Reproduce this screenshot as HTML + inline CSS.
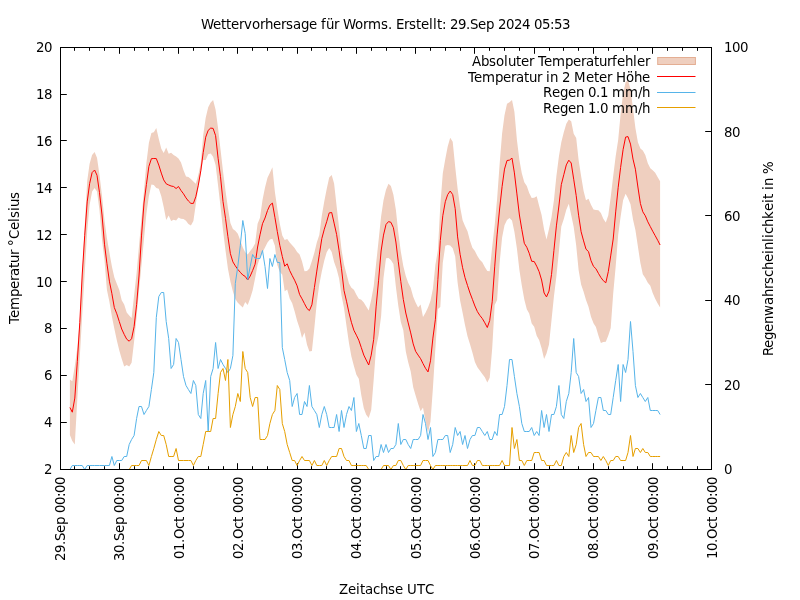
<!DOCTYPE html>
<html lang="de">
<head>
<meta charset="utf-8">
<title>Wettervorhersage für Worms</title>
<style>
html,body{margin:0;padding:0;background:#fff;}
body{width:800px;height:600px;overflow:hidden;}
svg{display:block;}
text{font-family:"DejaVu Sans", "Liberation Sans", sans-serif;font-size:13.33px;fill:#000;}
</style>
</head>
<body>
<svg width="800" height="600" viewBox="0 0 800 600">
<rect x="0" y="0" width="800" height="600" fill="#ffffff"/>
<path d="M60.5,469.5v-6.3M60.5,47.5v6.3M74.5,469.5v-3.3M74.5,47.5v3.3M89.5,469.5v-3.3M89.5,47.5v3.3M104.5,469.5v-3.3M104.5,47.5v3.3M119.5,469.5v-6.3M119.5,47.5v6.3M134.5,469.5v-3.3M134.5,47.5v3.3M148.5,469.5v-3.3M148.5,47.5v3.3M163.5,469.5v-3.3M163.5,47.5v3.3M178.5,469.5v-6.3M178.5,47.5v6.3M193.5,469.5v-3.3M193.5,47.5v3.3M208.5,469.5v-3.3M208.5,47.5v3.3M223.5,469.5v-3.3M223.5,47.5v3.3M237.5,469.5v-6.3M237.5,47.5v6.3M252.5,469.5v-3.3M252.5,47.5v3.3M267.5,469.5v-3.3M267.5,47.5v3.3M282.5,469.5v-3.3M282.5,47.5v3.3M297.5,469.5v-6.3M297.5,47.5v6.3M311.5,469.5v-3.3M311.5,47.5v3.3M326.5,469.5v-3.3M326.5,47.5v3.3M341.5,469.5v-3.3M341.5,47.5v3.3M356.5,469.5v-6.3M356.5,47.5v6.3M371.5,469.5v-3.3M371.5,47.5v3.3M386.5,469.5v-3.3M386.5,47.5v3.3M400.5,469.5v-3.3M400.5,47.5v3.3M415.5,469.5v-6.3M415.5,47.5v6.3M430.5,469.5v-3.3M430.5,47.5v3.3M445.5,469.5v-3.3M445.5,47.5v3.3M460.5,469.5v-3.3M460.5,47.5v3.3M474.5,469.5v-6.3M474.5,47.5v6.3M489.5,469.5v-3.3M489.5,47.5v3.3M504.5,469.5v-3.3M504.5,47.5v3.3M519.5,469.5v-3.3M519.5,47.5v3.3M534.5,469.5v-6.3M534.5,47.5v6.3M549.5,469.5v-3.3M549.5,47.5v3.3M563.5,469.5v-3.3M563.5,47.5v3.3M578.5,469.5v-3.3M578.5,47.5v3.3M593.5,469.5v-6.3M593.5,47.5v6.3M608.5,469.5v-3.3M608.5,47.5v3.3M623.5,469.5v-3.3M623.5,47.5v3.3M637.5,469.5v-3.3M637.5,47.5v3.3M652.5,469.5v-6.3M652.5,47.5v6.3M667.5,469.5v-3.3M667.5,47.5v3.3M682.5,469.5v-3.3M682.5,47.5v3.3M697.5,469.5v-3.3M697.5,47.5v3.3M711.5,469.5v-6.3M711.5,47.5v6.3M60.5,469.5h6.3M60.5,422.5h6.3M60.5,375.5h6.3M60.5,328.5h6.3M60.5,281.5h6.3M60.5,234.5h6.3M60.5,187.5h6.3M60.5,140.5h6.3M60.5,94.5h6.3M60.5,47.5h6.3M711.5,469.5h-6.3M711.5,384.5h-6.3M711.5,300.5h-6.3M711.5,215.5h-6.3M711.5,131.5h-6.3M711.5,47.5h-6.3" stroke="#000" stroke-width="1" fill="none"/>
<polygon points="69.9,379.4 72.3,381.2 74.8,366.0 77.3,348.1 79.8,319.9 82.2,273.4 84.7,226.9 87.2,181.0 89.6,163.7 92.1,155.1 94.6,151.9 97.0,157.8 99.5,175.1 102.0,195.7 104.5,220.3 106.9,238.1 109.4,252.6 111.9,266.6 114.3,277.3 116.8,283.7 119.3,290.0 121.7,300.2 124.2,304.5 126.7,312.5 129.2,315.4 131.6,318.1 134.1,295.6 136.6,273.1 139.0,245.9 141.5,218.3 144.0,190.7 146.4,163.1 148.9,142.8 151.4,133.1 153.8,132.3 156.3,128.1 158.8,138.9 161.3,148.8 163.7,153.1 166.2,147.5 168.7,153.8 171.1,152.7 173.6,154.9 176.1,156.5 178.5,158.6 181.0,162.5 183.5,170.2 186.0,176.4 188.4,177.1 190.9,179.0 193.4,181.5 195.8,183.8 198.3,175.1 200.8,162.9 203.2,135.3 205.7,117.7 208.2,107.2 210.7,102.4 213.1,100.0 215.6,109.8 218.1,128.6 220.5,149.2 223.0,171.2 225.5,190.8 227.9,207.7 230.4,222.9 232.9,229.1 235.3,230.7 237.8,233.8 240.3,240.6 242.8,247.5 245.2,252.2 247.7,254.4 250.2,251.1 252.6,248.1 255.1,243.5 257.6,223.7 260.0,217.8 262.5,199.9 265.0,187.6 267.5,177.7 269.9,172.7 272.4,167.2 274.9,192.0 277.3,208.5 279.8,223.8 282.3,235.4 284.7,240.0 287.2,239.0 289.7,242.5 292.2,245.2 294.6,248.0 297.1,252.1 299.6,254.6 302.0,261.3 304.5,271.2 307.0,270.9 309.4,268.6 311.9,261.1 314.4,252.5 316.8,242.6 319.3,235.0 321.8,215.7 324.3,201.2 326.7,188.9 329.2,177.6 331.7,175.0 334.1,183.6 336.6,206.0 339.1,227.9 341.5,249.6 344.0,264.5 346.5,273.9 349.0,283.6 351.4,287.7 353.9,289.8 356.4,294.7 358.8,298.7 361.3,299.8 363.8,302.5 366.2,306.4 368.7,310.6 371.2,299.7 373.7,286.3 376.1,263.8 378.6,240.2 381.1,216.6 383.5,200.2 386.0,189.8 388.5,183.8 390.9,186.1 393.4,194.7 395.9,209.9 398.3,232.4 400.8,251.4 403.3,266.0 405.8,276.0 408.2,282.7 410.7,287.8 413.2,296.7 415.6,302.5 418.1,307.5 420.6,304.4 423.0,316.9 425.5,312.7 428.0,307.5 430.5,300.7 432.9,288.7 435.4,264.8 437.9,249.9 440.3,205.5 442.8,173.2 445.3,158.9 447.7,146.5 450.2,137.8 452.7,141.7 455.2,166.8 457.6,188.4 460.1,206.8 462.6,220.2 465.0,226.0 467.5,231.2 470.0,240.7 472.4,247.7 474.9,251.1 477.4,256.0 479.8,259.8 482.3,262.3 484.8,267.1 487.3,271.0 489.7,271.2 492.2,246.8 494.7,224.9 497.1,198.9 499.6,164.5 502.1,133.4 504.5,115.2 507.0,103.7 509.5,102.2 512.0,100.0 514.4,111.7 516.9,139.8 519.4,159.9 521.8,173.2 524.3,182.3 526.8,185.9 529.2,193.0 531.7,198.1 534.2,197.8 536.7,196.2 539.1,205.8 541.6,215.0 544.1,229.4 546.5,239.5 549.0,229.0 551.5,217.2 553.9,200.6 556.4,175.9 558.9,156.5 561.3,142.2 563.8,132.3 566.3,123.7 568.8,119.4 571.2,121.2 573.7,133.8 576.2,138.1 578.6,160.0 581.1,176.0 583.6,191.1 586.0,200.2 588.5,198.8 591.0,204.8 593.5,209.6 595.9,210.0 598.4,210.2 600.9,213.1 603.3,218.8 605.8,222.5 608.3,215.3 610.7,197.3 613.2,175.9 615.7,156.1 618.2,139.8 620.6,114.2 623.1,93.6 625.6,82.2 628.0,80.0 630.5,89.2 633.0,108.7 635.4,127.9 637.9,142.3 640.4,148.4 642.8,150.5 645.3,154.9 647.8,163.3 650.3,168.2 652.7,170.2 655.2,172.8 657.7,177.2 660.1,181.2 660.1,307.5 657.7,303.6 655.2,298.8 652.7,293.0 650.3,285.8 647.8,282.8 645.3,278.1 642.8,274.3 640.4,263.1 637.9,246.5 635.4,230.1 633.0,219.4 630.5,204.2 628.0,198.3 625.6,193.8 623.1,200.2 620.6,216.7 618.2,234.8 615.7,266.3 613.2,293.6 610.7,328.0 608.3,335.6 605.8,341.7 603.3,342.0 600.9,343.1 598.4,335.5 595.9,327.0 593.5,323.2 591.0,316.8 588.5,306.8 586.0,300.0 583.6,291.8 581.1,284.6 578.6,270.1 576.2,245.4 573.7,227.0 571.2,214.9 568.8,203.8 566.3,209.8 563.8,218.9 561.3,226.5 558.9,251.2 556.4,276.2 553.9,296.7 551.5,320.3 549.0,344.6 546.5,353.6 544.1,359.0 541.6,348.3 539.1,340.0 536.7,335.8 534.2,326.7 531.7,323.6 529.2,313.5 526.8,309.3 524.3,299.5 521.8,285.6 519.4,269.9 516.9,248.4 514.4,231.7 512.0,220.6 509.5,218.1 507.0,220.0 504.5,225.2 502.1,237.5 499.6,263.0 497.1,300.0 494.7,305.0 492.2,348.3 489.7,377.7 487.3,382.5 484.8,377.2 482.3,373.9 479.8,370.6 477.4,367.3 474.9,362.1 472.4,352.6 470.0,344.2 467.5,336.2 465.0,325.1 462.6,312.8 460.1,300.5 457.6,282.5 455.2,256.4 452.7,248.2 450.2,245.5 447.7,245.0 445.3,245.7 442.8,262.7 440.3,306.9 437.9,308.9 435.4,348.3 432.9,388.3 430.5,421.6 428.0,432.5 425.5,421.2 423.0,407.5 420.6,411.2 418.1,403.7 415.6,395.4 413.2,387.2 410.7,371.4 408.2,362.2 405.8,351.5 403.3,330.3 400.8,322.1 398.3,305.7 395.9,287.0 393.4,264.1 390.9,259.9 388.5,258.1 386.0,258.3 383.5,277.9 381.1,316.3 378.6,335.2 376.1,347.5 373.7,379.6 371.2,410.0 368.7,418.1 366.2,414.7 363.8,408.2 361.3,395.3 358.8,378.7 356.4,374.8 353.9,366.0 351.4,356.4 349.0,343.2 346.5,326.1 344.0,308.1 341.5,295.6 339.1,278.6 336.6,269.0 334.1,262.1 331.7,251.9 329.2,248.1 326.7,252.3 324.3,260.5 321.8,271.4 319.3,284.4 316.8,302.6 314.4,327.5 311.9,350.9 309.4,351.4 307.0,344.7 304.5,332.5 302.0,338.1 299.6,328.2 297.1,320.8 294.6,311.3 292.2,303.2 289.7,298.6 287.2,289.4 284.7,291.2 282.3,274.7 279.8,271.8 277.3,264.9 274.9,245.7 272.4,238.8 269.9,239.5 267.5,242.6 265.0,247.5 262.5,252.5 260.0,257.4 257.6,264.7 255.1,278.2 252.6,290.6 250.2,298.2 247.7,305.0 245.2,301.9 242.8,307.5 240.3,305.3 237.8,302.8 235.3,299.0 232.9,291.5 230.4,281.6 227.9,268.4 225.5,250.4 223.0,230.0 220.5,206.5 218.1,185.7 215.6,165.0 213.1,156.7 210.7,153.5 208.2,154.3 205.7,160.0 203.2,160.0 200.8,172.9 198.3,187.9 195.8,204.3 193.4,221.1 190.9,225.6 188.4,224.0 186.0,220.7 183.5,219.1 181.0,218.7 178.5,217.5 176.1,220.6 173.6,219.8 171.1,221.0 168.7,215.6 166.2,220.0 163.7,207.0 161.3,196.3 158.8,188.8 156.3,188.1 153.8,184.9 151.4,184.4 148.9,196.1 146.4,213.6 144.0,238.9 141.5,264.9 139.0,290.8 136.6,316.7 134.1,341.6 131.6,362.8 129.2,366.5 126.7,365.0 124.2,366.5 121.7,358.7 119.3,350.5 116.8,340.3 114.3,328.5 111.9,316.5 109.4,301.7 106.9,289.8 104.5,260.3 102.0,239.8 99.5,210.2 97.0,191.5 94.6,188.1 92.1,191.4 89.6,204.9 87.2,231.2 84.7,273.1 82.2,314.9 79.8,356.8 77.3,399.2 74.8,444.4 72.3,440.9 69.9,435.0" fill="#efcfbf" stroke="none"/>
<text x="472 481 489 496 504 508 516 521 529 534 538 544 552 565 573 581 586 594 599 607 612 617 625 633 637 645" y="66">Absoluter Temperaturfehler</text>
<rect x="657.7" y="57.5" width="37.7" height="7" fill="#efcfbf" stroke="#e4ae93" stroke-width="1"/>
<polyline points="69.9,407.5 72.3,412.2 74.8,398.1 77.3,361.7 79.8,322.4 82.2,275.0 84.7,235.7 87.2,201.9 89.6,183.7 92.1,172.6 94.6,170.0 97.0,175.3 99.5,192.7 102.0,215.0 104.5,244.2 106.9,263.3 109.4,281.2 111.9,293.7 114.3,307.5 116.8,313.8 119.3,321.6 121.7,329.0 124.2,334.4 126.7,339.2 129.2,341.2 131.6,338.7 134.1,326.6 136.6,304.7 139.0,276.0 141.5,235.9 144.0,203.0 146.4,184.6 148.9,166.4 151.4,158.7 153.8,158.5 156.3,158.6 158.8,165.1 161.3,173.1 163.7,179.9 166.2,183.8 168.7,185.0 171.1,186.0 173.6,186.5 176.1,188.5 178.5,186.5 181.0,190.5 183.5,193.8 186.0,197.9 188.4,201.0 190.9,203.4 193.4,203.4 195.8,196.7 198.3,185.2 200.8,170.8 203.2,152.6 205.7,137.2 208.2,130.3 210.7,128.1 213.1,128.4 215.6,135.7 218.1,158.3 220.5,176.7 223.0,201.5 225.5,218.3 227.9,236.5 230.4,253.7 232.9,261.9 235.3,265.8 237.8,269.4 240.3,272.3 242.8,275.0 245.2,276.4 247.7,280.0 250.2,276.1 252.6,270.6 255.1,264.2 257.6,247.0 260.0,234.8 262.5,223.7 265.0,218.0 267.5,210.5 269.9,205.2 272.4,203.1 274.9,217.3 277.3,231.6 279.8,245.3 282.3,256.5 284.7,266.2 287.2,263.8 289.7,270.6 292.2,275.6 294.6,280.2 297.1,285.8 299.6,294.5 302.0,298.8 304.5,303.7 307.0,308.5 309.4,310.6 311.9,304.8 314.4,287.5 316.8,271.1 319.3,254.8 321.8,238.6 324.3,229.2 326.7,221.7 329.2,212.9 331.7,212.5 334.1,223.1 336.6,234.4 339.1,250.7 341.5,268.8 344.0,290.5 346.5,301.2 349.0,312.9 351.4,322.3 353.9,330.3 356.4,335.2 358.8,340.2 361.3,347.6 363.8,355.1 366.2,360.0 368.7,365.0 371.2,355.2 373.7,339.4 376.1,306.9 378.6,280.2 381.1,251.0 383.5,235.1 386.0,224.5 388.5,221.6 390.9,222.3 393.4,227.7 395.9,242.0 398.3,261.8 400.8,281.5 403.3,299.4 405.8,313.0 408.2,322.9 410.7,332.9 413.2,343.9 415.6,351.3 418.1,355.1 420.6,358.7 423.0,363.6 425.5,368.3 428.0,371.9 430.5,360.8 432.9,338.1 435.4,319.3 437.9,279.3 440.3,240.6 442.8,215.7 445.3,201.7 447.7,194.6 450.2,191.0 452.7,194.6 455.2,208.7 457.6,236.9 460.1,254.3 462.6,267.7 465.0,277.6 467.5,285.5 470.0,293.0 472.4,299.3 474.9,306.0 477.4,311.6 479.8,315.4 482.3,318.5 484.8,322.8 487.3,327.5 489.7,320.5 492.2,301.8 494.7,266.9 497.1,234.9 499.6,209.0 502.1,186.5 504.5,169.1 507.0,160.5 509.5,160.1 512.0,158.1 514.4,172.9 516.9,193.9 519.4,215.0 521.8,229.4 524.3,243.3 526.8,247.3 529.2,253.2 531.7,261.3 534.2,261.5 536.7,266.2 539.1,271.6 541.6,280.0 544.1,293.0 546.5,296.9 549.0,291.1 551.5,274.6 553.9,250.6 556.4,225.9 558.9,206.0 561.3,184.6 563.8,174.7 566.3,164.9 568.8,160.2 571.2,163.0 573.7,179.2 576.2,195.6 578.6,215.2 581.1,231.7 583.6,240.9 586.0,249.2 588.5,251.6 591.0,260.7 593.5,266.4 595.9,268.7 598.4,273.3 600.9,277.5 603.3,280.7 605.8,282.8 608.3,271.6 610.7,255.9 613.2,239.0 615.7,211.9 618.2,187.3 620.6,167.5 623.1,149.5 625.6,137.1 628.0,136.6 630.5,144.1 633.0,159.1 635.4,169.2 637.9,187.0 640.4,203.5 642.8,211.8 645.3,215.8 647.8,221.8 650.3,226.6 652.7,231.2 655.2,235.7 657.7,240.3 660.1,245.0" fill="none" stroke="#ff0000" stroke-width="1" stroke-linejoin="miter" stroke-miterlimit="6"/>
<text x="468 474 482 495 503 511 516 524 529 537 542 546 550 558 562 570 574 586 594 599 607 612 616 626 634 642" y="82">Temperatur in 2 Meter Höhe</text>
<path d="M657,76.5H695.5" stroke="#ff0000" stroke-width="1" fill="none"/>
<polyline points="69.9,469.5 72.3,465.5 74.8,465.5 77.3,465.5 79.8,465.5 82.2,465.5 84.7,469.5 87.2,465.5 89.6,465.5 92.1,465.5 94.6,465.5 97.0,465.5 99.5,465.5 102.0,465.5 104.5,465.5 106.9,465.5 109.4,465.5 111.9,456.5 114.3,465.5 116.8,460.5 119.3,460.5 121.7,460.5 124.2,456.5 126.7,456.5 129.2,444.5 131.6,439.5 134.1,435.5 136.6,418.5 139.0,406.5 141.5,406.5 144.0,414.5 146.4,410.5 148.9,406.5 151.4,389.5 153.8,372.5 156.3,317.5 158.8,296.5 161.3,292.5 163.7,292.5 166.2,321.5 168.7,338.5 171.1,368.5 173.6,364.5 176.1,338.5 178.5,342.5 181.0,359.5 183.5,376.5 186.0,385.5 188.4,389.5 190.9,393.5 193.4,380.5 195.8,385.5 198.3,414.5 200.8,418.5 203.2,393.5 205.7,380.5 208.2,431.5 210.7,376.5 213.1,368.5 215.6,342.5 218.1,368.5 220.5,359.5 223.0,364.5 225.5,368.5 227.9,372.5 230.4,368.5 232.9,355.5 235.3,283.5 237.8,266.5 240.3,245.5 242.8,220.5 245.2,233.5 247.7,279.5 250.2,266.5 252.6,254.5 255.1,258.5 257.6,258.5 260.0,258.5 262.5,250.5 265.0,266.5 267.5,288.5 269.9,258.5 272.4,266.5 274.9,254.5 277.3,262.5 279.8,262.5 282.3,347.5 284.7,359.5 287.2,372.5 289.7,380.5 292.2,406.5 294.6,397.5 297.1,393.5 299.6,414.5 302.0,414.5 304.5,401.5 307.0,406.5 309.4,385.5 311.9,406.5 314.4,410.5 316.8,414.5 319.3,427.5 321.8,414.5 324.3,406.5 326.7,414.5 329.2,427.5 331.7,427.5 334.1,427.5 336.6,414.5 339.1,431.5 341.5,410.5 344.0,427.5 346.5,414.5 349.0,406.5 351.4,410.5 353.9,397.5 356.4,431.5 358.8,423.5 361.3,435.5 363.8,448.5 366.2,448.5 368.7,435.5 371.2,435.5 373.7,460.5 376.1,456.5 378.6,456.5 381.1,444.5 383.5,452.5 386.0,444.5 388.5,452.5 390.9,448.5 393.4,448.5 395.9,444.5 398.3,423.5 400.8,444.5 403.3,439.5 405.8,439.5 408.2,444.5 410.7,448.5 413.2,439.5 415.6,439.5 418.1,439.5 420.6,435.5 423.0,414.5 425.5,423.5 428.0,439.5 430.5,427.5 432.9,456.5 435.4,452.5 437.9,439.5 440.3,439.5 442.8,439.5 445.3,435.5 447.7,435.5 450.2,452.5 452.7,444.5 455.2,427.5 457.6,435.5 460.1,431.5 462.6,444.5 465.0,435.5 467.5,448.5 470.0,439.5 472.4,435.5 474.9,435.5 477.4,427.5 479.8,427.5 482.3,431.5 484.8,435.5 487.3,431.5 489.7,439.5 492.2,439.5 494.7,431.5 497.1,435.5 499.6,414.5 502.1,414.5 504.5,406.5 507.0,385.5 509.5,359.5 512.0,359.5 514.4,376.5 516.9,393.5 519.4,406.5 521.8,423.5 524.3,431.5 526.8,431.5 529.2,431.5 531.7,427.5 534.2,435.5 536.7,431.5 539.1,435.5 541.6,410.5 544.1,427.5 546.5,414.5 549.0,431.5 551.5,414.5 553.9,414.5 556.4,406.5 558.9,385.5 561.3,414.5 563.8,418.5 566.3,401.5 568.8,393.5 571.2,372.5 573.7,338.5 576.2,372.5 578.6,376.5 581.1,393.5 583.6,389.5 586.0,401.5 588.5,397.5 591.0,427.5 593.5,423.5 595.9,410.5 598.4,397.5 600.9,397.5 603.3,410.5 605.8,410.5 608.3,414.5 610.7,414.5 613.2,397.5 615.7,380.5 618.2,364.5 620.6,401.5 623.1,364.5 625.6,372.5 628.0,359.5 630.5,321.5 633.0,351.5 635.4,385.5 637.9,397.5 640.4,393.5 642.8,397.5 645.3,401.5 647.8,397.5 650.3,410.5 652.7,410.5 655.2,410.5 657.7,410.5 660.1,414.5" fill="none" stroke="#56b4e9" stroke-width="1" stroke-linejoin="miter" stroke-miterlimit="6"/>
<text x="543 552 560 568 576 584 588 596 600 608 612 625 638 642" y="97">Regen 0.1 mm/h</text>
<path d="M657,92.5H695.5" stroke="#56b4e9" stroke-width="1" fill="none"/>
<polyline points="69.9,469.5 72.3,469.5 74.8,469.5 77.3,469.5 79.8,469.5 82.2,469.5 84.7,469.5 87.2,469.5 89.6,469.5 92.1,469.5 94.6,469.5 97.0,469.5 99.5,469.5 102.0,469.5 104.5,469.5 106.9,469.5 109.4,469.5 111.9,469.5 114.3,469.5 116.8,469.5 119.3,469.5 121.7,469.5 124.2,469.5 126.7,469.5 129.2,469.5 131.6,465.5 134.1,465.5 136.6,465.5 139.0,465.5 141.5,460.5 144.0,460.5 146.4,460.5 148.9,465.5 151.4,456.5 153.8,448.5 156.3,439.5 158.8,431.5 161.3,435.5 163.7,435.5 166.2,444.5 168.7,456.5 171.1,456.5 173.6,456.5 176.1,448.5 178.5,460.5 181.0,460.5 183.5,460.5 186.0,460.5 188.4,460.5 190.9,460.5 193.4,465.5 195.8,460.5 198.3,456.5 200.8,456.5 203.2,444.5 205.7,431.5 208.2,431.5 210.7,431.5 213.1,418.5 215.6,418.5 218.1,393.5 220.5,372.5 223.0,368.5 225.5,380.5 227.9,359.5 230.4,427.5 232.9,414.5 235.3,406.5 237.8,393.5 240.3,401.5 242.8,351.5 245.2,368.5 247.7,372.5 250.2,397.5 252.6,406.5 255.1,397.5 257.6,397.5 260.0,439.5 262.5,439.5 265.0,439.5 267.5,435.5 269.9,423.5 272.4,414.5 274.9,410.5 277.3,385.5 279.8,389.5 282.3,423.5 284.7,431.5 287.2,444.5 289.7,452.5 292.2,460.5 294.6,460.5 297.1,465.5 299.6,460.5 302.0,456.5 304.5,460.5 307.0,460.5 309.4,460.5 311.9,465.5 314.4,460.5 316.8,465.5 319.3,465.5 321.8,465.5 324.3,460.5 326.7,465.5 329.2,460.5 331.7,456.5 334.1,456.5 336.6,456.5 339.1,448.5 341.5,448.5 344.0,456.5 346.5,460.5 349.0,460.5 351.4,465.5 353.9,465.5 356.4,465.5 358.8,465.5 361.3,465.5 363.8,465.5 366.2,465.5 368.7,469.5 371.2,469.5 373.7,469.5 376.1,469.5 378.6,469.5 381.1,469.5 383.5,465.5 386.0,465.5 388.5,465.5 390.9,469.5 393.4,465.5 395.9,465.5 398.3,460.5 400.8,460.5 403.3,465.5 405.8,469.5 408.2,465.5 410.7,465.5 413.2,465.5 415.6,465.5 418.1,465.5 420.6,465.5 423.0,460.5 425.5,460.5 428.0,460.5 430.5,465.5 432.9,469.5 435.4,465.5 437.9,465.5 440.3,465.5 442.8,465.5 445.3,465.5 447.7,465.5 450.2,465.5 452.7,465.5 455.2,465.5 457.6,465.5 460.1,465.5 462.6,465.5 465.0,465.5 467.5,465.5 470.0,460.5 472.4,465.5 474.9,465.5 477.4,460.5 479.8,460.5 482.3,465.5 484.8,465.5 487.3,465.5 489.7,465.5 492.2,465.5 494.7,465.5 497.1,465.5 499.6,465.5 502.1,460.5 504.5,465.5 507.0,465.5 509.5,465.5 512.0,427.5 514.4,448.5 516.9,439.5 519.4,460.5 521.8,460.5 524.3,465.5 526.8,460.5 529.2,460.5 531.7,460.5 534.2,452.5 536.7,452.5 539.1,452.5 541.6,460.5 544.1,460.5 546.5,465.5 549.0,465.5 551.5,465.5 553.9,465.5 556.4,460.5 558.9,465.5 561.3,465.5 563.8,456.5 566.3,452.5 568.8,456.5 571.2,435.5 573.7,452.5 576.2,444.5 578.6,427.5 581.1,423.5 583.6,444.5 586.0,456.5 588.5,452.5 591.0,452.5 593.5,456.5 595.9,456.5 598.4,456.5 600.9,460.5 603.3,456.5 605.8,460.5 608.3,465.5 610.7,460.5 613.2,460.5 615.7,456.5 618.2,456.5 620.6,460.5 623.1,460.5 625.6,460.5 628.0,452.5 630.5,435.5 633.0,456.5 635.4,448.5 637.9,448.5 640.4,452.5 642.8,448.5 645.3,452.5 647.8,452.5 650.3,456.5 652.7,456.5 655.2,456.5 657.7,456.5 660.1,456.5" fill="none" stroke="#e69f00" stroke-width="1" stroke-linejoin="miter" stroke-miterlimit="6"/>
<text x="543 552 560 568 576 584 588 596 600 608 612 625 638 642" y="113">Regen 1.0 mm/h</text>
<path d="M657,107.5H695.5" stroke="#e69f00" stroke-width="1" fill="none"/>
<rect x="60.5" y="47.5" width="651.0" height="422.0" fill="none" stroke="#000" stroke-width="1"/>
<text x="44" y="474">2</text>
<text x="44" y="427">4</text>
<text x="44" y="380">6</text>
<text x="44" y="333">8</text>
<text x="36 44" y="287">10</text>
<text x="36 44" y="240">12</text>
<text x="36 44" y="193">14</text>
<text x="36 44" y="146">16</text>
<text x="36 44" y="99">18</text>
<text x="36 44" y="52">20</text>
<text x="724" y="474">0</text>
<text x="724 732" y="390">20</text>
<text x="724 732" y="305">40</text>
<text x="724 732" y="221">60</text>
<text x="724 732" y="137">80</text>
<text x="724 732 740" y="52">100</text>
<text transform="translate(65,477) rotate(-90)" x="-84 -76 -68 -64 -56 -48 -40 -36 -28 -20 -16 -8" y="0">29.Sep 00:00</text>
<text transform="translate(124,477) rotate(-90)" x="-84 -76 -68 -64 -56 -48 -40 -36 -28 -20 -16 -8" y="0">30.Sep 00:00</text>
<text transform="translate(184,477) rotate(-90)" x="-82 -74 -66 -62 -52 -45 -40 -36 -28 -20 -16 -8" y="0">01.Oct 00:00</text>
<text transform="translate(243,477) rotate(-90)" x="-82 -74 -66 -62 -52 -45 -40 -36 -28 -20 -16 -8" y="0">02.Oct 00:00</text>
<text transform="translate(302,477) rotate(-90)" x="-82 -74 -66 -62 -52 -45 -40 -36 -28 -20 -16 -8" y="0">03.Oct 00:00</text>
<text transform="translate(361,477) rotate(-90)" x="-82 -74 -66 -62 -52 -45 -40 -36 -28 -20 -16 -8" y="0">04.Oct 00:00</text>
<text transform="translate(421,477) rotate(-90)" x="-82 -74 -66 -62 -52 -45 -40 -36 -28 -20 -16 -8" y="0">05.Oct 00:00</text>
<text transform="translate(480,477) rotate(-90)" x="-82 -74 -66 -62 -52 -45 -40 -36 -28 -20 -16 -8" y="0">06.Oct 00:00</text>
<text transform="translate(539,477) rotate(-90)" x="-82 -74 -66 -62 -52 -45 -40 -36 -28 -20 -16 -8" y="0">07.Oct 00:00</text>
<text transform="translate(598,477) rotate(-90)" x="-82 -74 -66 -62 -52 -45 -40 -36 -28 -20 -16 -8" y="0">08.Oct 00:00</text>
<text transform="translate(658,477) rotate(-90)" x="-82 -74 -66 -62 -52 -45 -40 -36 -28 -20 -16 -8" y="0">09.Oct 00:00</text>
<text transform="translate(717,477) rotate(-90)" x="-82 -74 -66 -62 -52 -45 -40 -36 -28 -20 -16 -8" y="0">10.Oct 00:00</text>
<text x="201 213 221 226 231 239 244 252 260 265 273 281 286 293 301 309 317 321 326 334 339 343 355 363 368 381 388 392 396 404 409 416 421 429 433 437 442 446 450 458 466 470 478 486 494 498 506 514 522 530 534 542 550 554 562" y="29">Wettervorhersage für Worms. Erstellt: 29.Sep 2024 05:53</text>
<text x="339 348 356 360 365 373 380 388 395 403 407 417 425" y="594">Zeitachse UTC</text>
<text transform="translate(19,324) rotate(-90)" x="0 6 14 27 35 43 48 56 61 69 74 78 85 94 102 106 113 117 125" y="0">Temperatur °Celsius</text>
<text transform="translate(773,356) rotate(-90)" x="0 8 16 24 32 40 51 59 67 72 79 86 94 102 106 114 118 122 129 137 145 153 157 162 166 170 178 182" y="0">Regenwahrscheinlichkeit in %</text>
</svg>
</body>
</html>
